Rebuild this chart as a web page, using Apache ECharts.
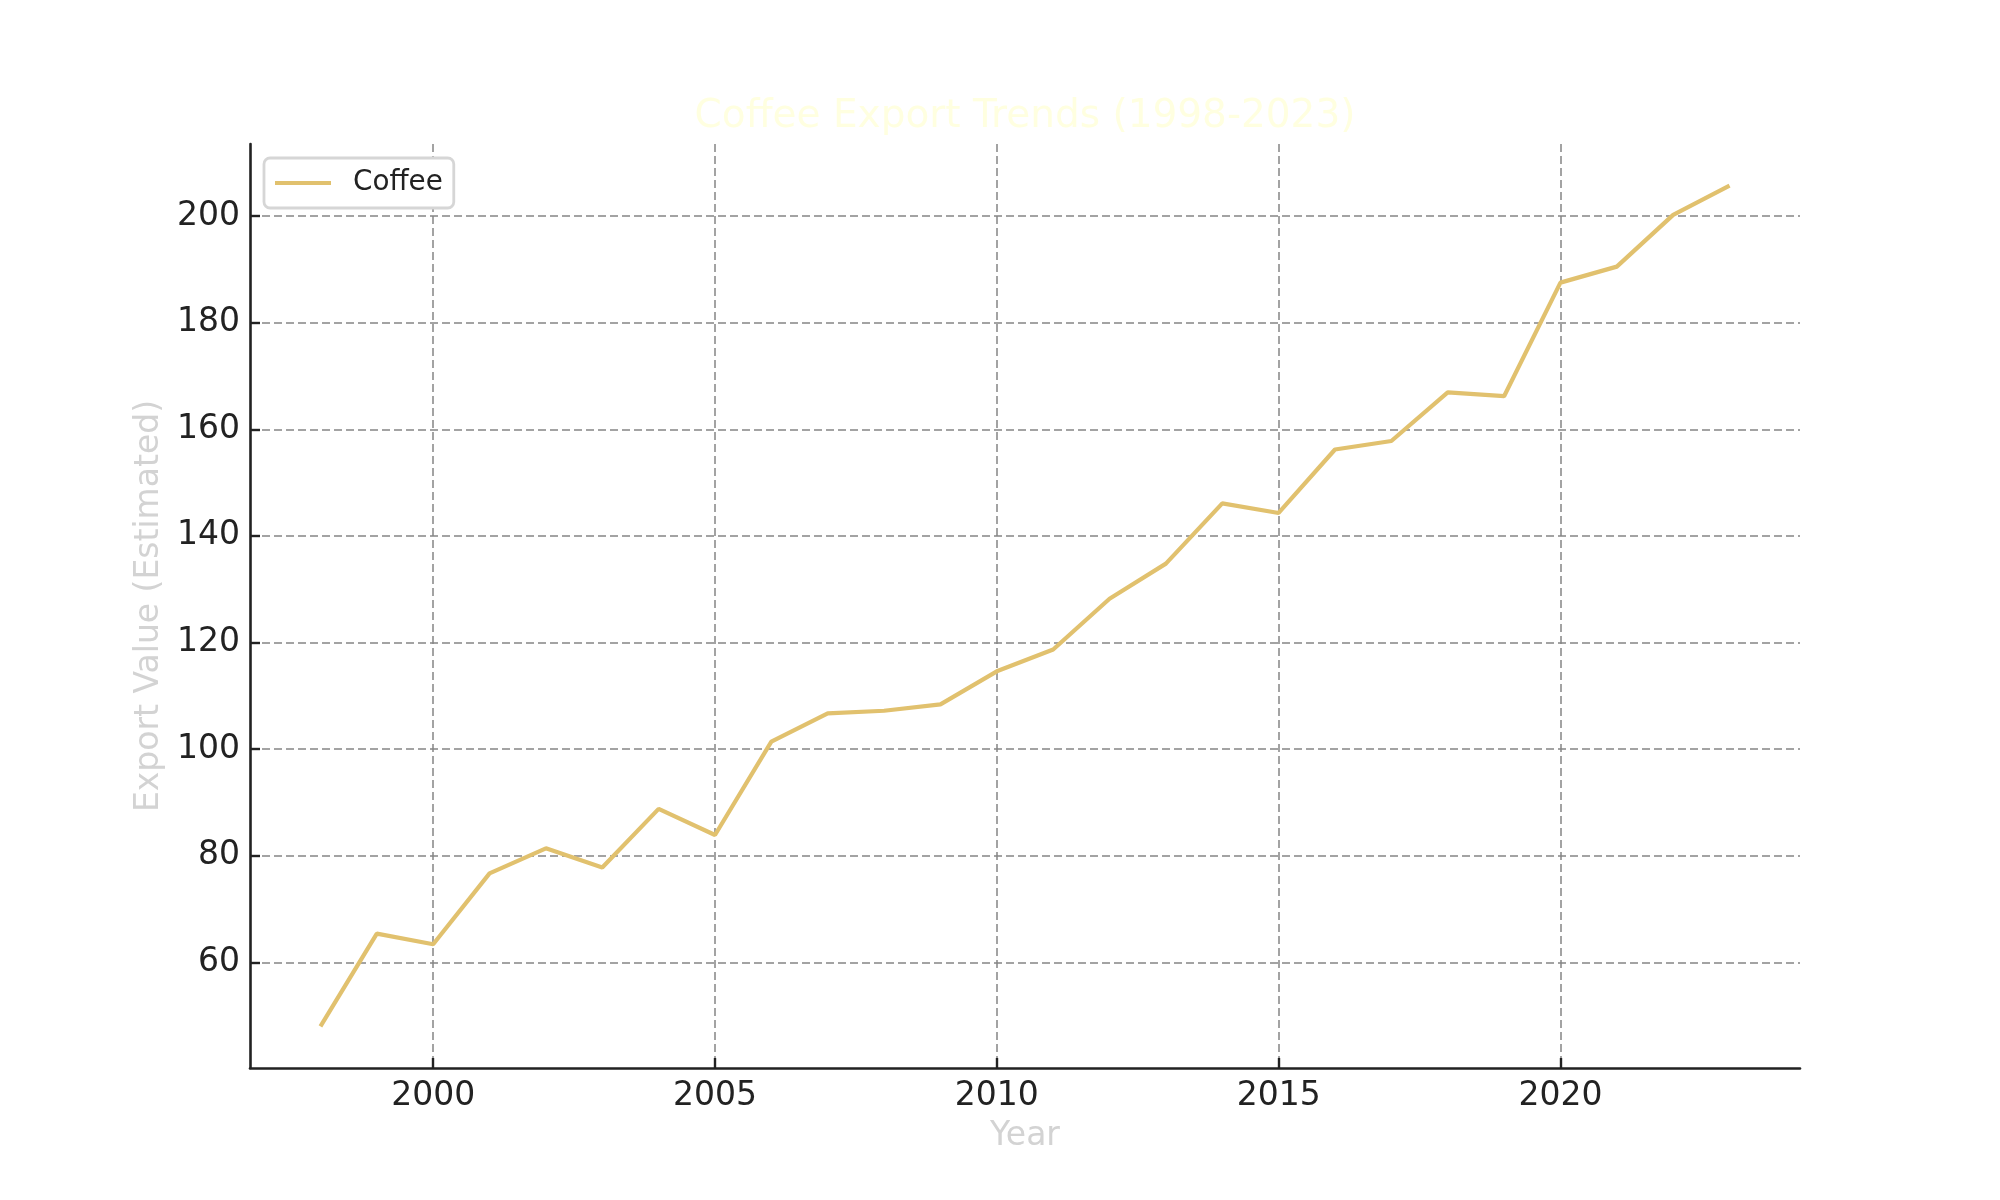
<!DOCTYPE html>
<html>
<head>
<meta charset="utf-8">
<title>Coffee Export Trends</title>
<script src="https://cdn.jsdelivr.net/npm/echarts@6/dist/echarts.min.js"></script>
<style>
    html, body { margin: 0; padding: 0; background: #fff; }
    #chart_01 { width: 2000px; height: 1200px; }
</style>
</head>
<body>
<div id="chart_01"></div>
<script>
var years = [1998, 1999, 2000, 2001, 2002, 2003, 2004, 2005, 2006, 2007, 2008, 2009, 2010,
    2011, 2012, 2013, 2014, 2015, 2016, 2017, 2018, 2019, 2020, 2021, 2022, 2023];
var coffee = [48.0, 65.4, 63.4, 76.7, 81.4, 77.8, 88.8, 83.9, 101.4, 106.7, 107.2, 108.4, 114.6,
    118.7, 128.2, 134.8, 146.1, 144.3, 156.2, 157.8, 166.9, 166.2, 187.5, 190.5, 200.2, 205.7];
var xTicks = [2000, 2005, 2010, 2015, 2020];
var yTicks = [60, 80, 100, 120, 140, 160, 180, 200];

var chart1;
var font = 'DejaVu Sans';

function setChart1() {
    var dom = document.getElementById("chart_01");
    chart1 = echarts.init(dom);
    var points = years.map(function (y, i) { return [y, coffee[i]]; });
    var option = {
        animation: false,
        backgroundColor: '#ffffff',
        title: {
            text: 'Coffee Export Trends (1998-2023)',
            left: 1025,
            top: 97,
            padding: 0,
            textAlign: 'center',
            textStyle: {
                color: '#ffffe0',
                fontFamily: font,
                fontSize: 39,
                fontWeight: 'normal'
            }
        },
        legend: {
            left: 264,
            top: 158,
            orient: 'vertical',
            padding: [11, 11, 11, 11],
            itemWidth: 56,
            itemHeight: 14,
            backgroundColor: '#ffffff',
            borderColor: '#d6d6d6',
            borderWidth: 2.8,
            borderRadius: 6,
            textStyle: {
                color: '#222',
                fontFamily: font,
                fontSize: 27.8,
                lineHeight: 28,
                padding: [0, 0, 0, 17]
            },
            data: [{ name: 'Coffee', icon: 'path://M0,0 L56,0 L56,4.2 L0,4.2 Z' }]
        },
        grid: {
            left: 250,
            right: 200,
            top: 144,
            bottom: 132,
            containLabel: false
        },
        xAxis: {
            type: 'value',
            min: 1996.75,
            max: 2024.25,
            name: 'Year',
            nameLocation: 'middle',
            nameGap: 52,
            nameTextStyle: { color: '#d3d3d3', fontFamily: font, fontSize: 33 },
            axisLine: { show: true, onZero: false, lineStyle: { color: '#222', width: 2.6 } },
            axisTick: { show: true, inside: true, length: 10, customValues: xTicks,
                lineStyle: { color: '#222', width: 2.4 } },
            axisLabel: { margin: 12, color: '#222', fontFamily: font, fontSize: 33,
                customValues: xTicks, formatter: function (v) { return String(v); } },
            splitLine: { show: true, lineStyle: { color: '#858585', width: 1.5, type: [8, 4] } }
        },
        yAxis: {
            type: 'value',
            min: 40.2,
            max: 213.5,
            name: 'Export Value (Estimated)',
            nameLocation: 'middle',
            nameRotate: 90,
            nameGap: 84,
            nameTextStyle: { color: '#d3d3d3', fontFamily: font, fontSize: 33 },
            axisLine: { show: true, onZero: false, lineStyle: { color: '#222', width: 2.6 } },
            axisTick: { show: true, inside: true, length: 10, customValues: yTicks,
                lineStyle: { color: '#222', width: 2.4 } },
            axisLabel: { margin: 10, color: '#222', fontFamily: font, fontSize: 33,
                customValues: yTicks },
            splitLine: { show: true, lineStyle: { color: '#858585', width: 1.5, type: [8, 4] } }
        },
        series: [{
            name: 'Coffee',
            type: 'line',
            data: points,
            symbol: 'none',
            itemStyle: { color: '#e1c16e' },
            lineStyle: { color: '#e1c16e', width: 4.2 }
        }]
    };
    chart1.setOption(option, true);
}

window.onresize = function () {
    chart1 && chart1.resize();
};
setChart1();
</script>
</body>
</html>
